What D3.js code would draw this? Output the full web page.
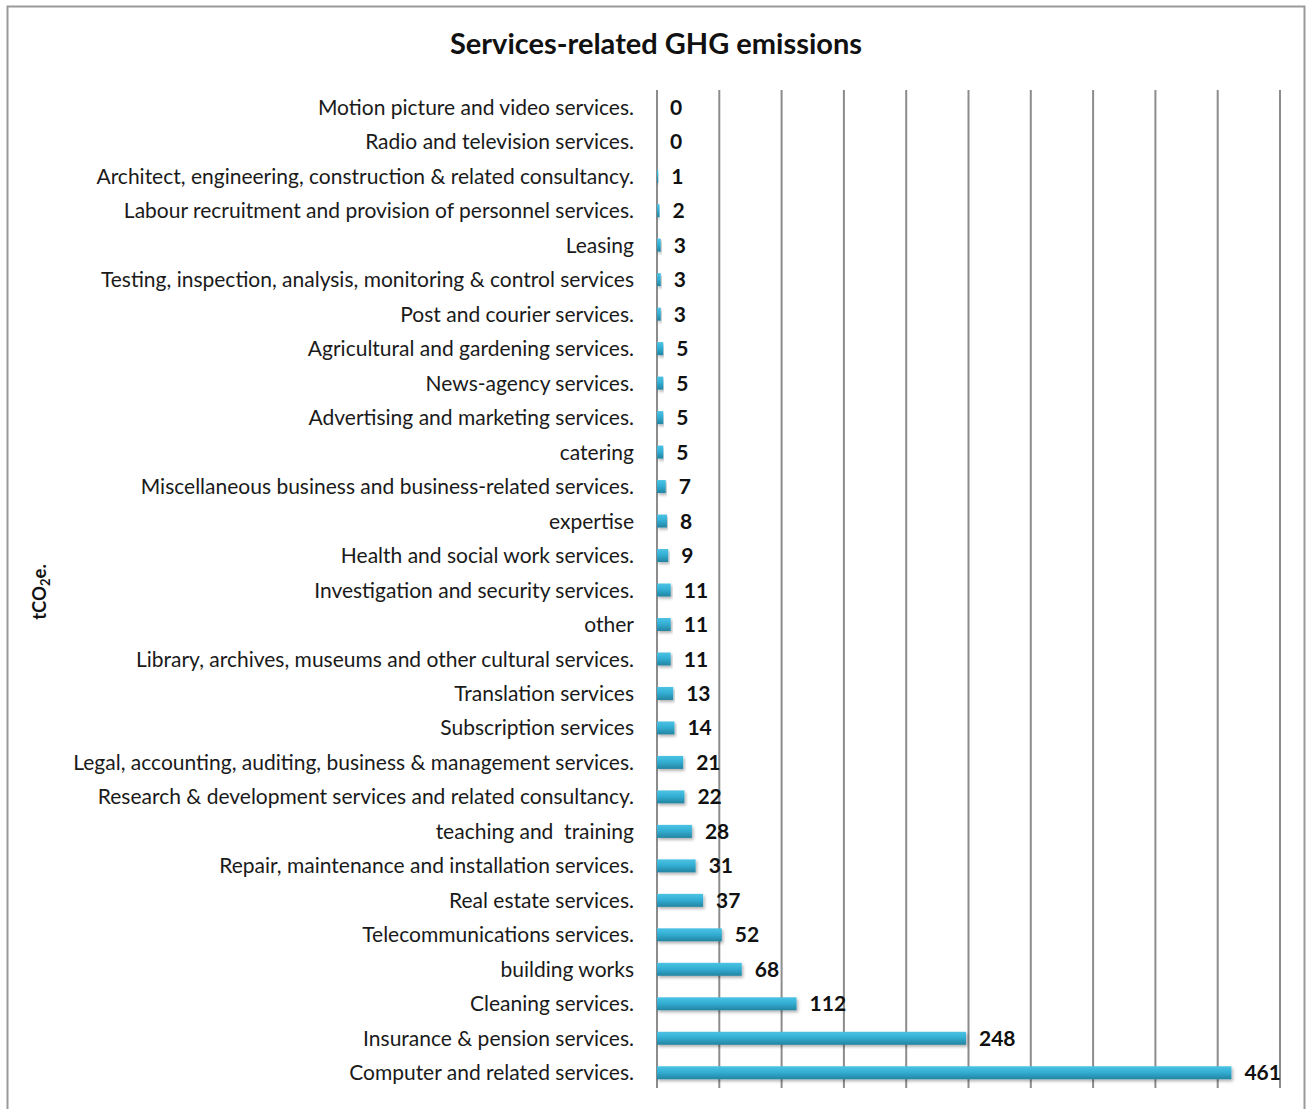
<!DOCTYPE html>
<html>
<head>
<meta charset="utf-8">
<script src="https://cdn.jsdelivr.net/npm/d3@7"></script>
<style>
  html, body { margin: 0; padding: 0; background: #fff; }
  svg text { font-family: Lato, "Open Sans", sans-serif; }
</style>
</head>
<body>
<svg id="chart" width="1309" height="1109"></svg>
<script>
// Service categories, listed top to bottom
const categories = [
  "Motion picture and video services.",
  "Radio and television services.",
  "Architect, engineering, construction & related consultancy.",
  "Labour recruitment and provision of personnel services.",
  "Leasing",
  "Testing, inspection, analysis, monitoring & control services",
  "Post and courier services.",
  "Agricultural and gardening services.",
  "News-agency services.",
  "Advertising and marketing services.",
  "catering",
  "Miscellaneous business and business-related services.",
  "expertise",
  "Health and social work services.",
  "Investigation and security services.",
  "other",
  "Library, archives, museums and other cultural services.",
  "Translation services",
  "Subscription services",
  "Legal, accounting, auditing, business & management services.",
  "Research & development services and related consultancy.",
  "teaching and  training",
  "Repair, maintenance and installation services.",
  "Real estate services.",
  "Telecommunications services.",
  "building works",
  "Cleaning services.",
  "Insurance & pension services.",
  "Computer and related services."
];

// Emissions in tCO2e, same order as categories
const emissions = [0, 0, 1, 2, 3, 3, 3, 5, 5, 5, 5, 7, 8, 9, 11, 11, 11, 13, 14, 21, 22, 28, 31, 37, 52, 68, 112, 248, 461];

// Value axis gridline values
const gridTicks = [0, 50, 100, 150, 200, 250, 300, 350, 400, 450, 500];

const chartTitle = "Services-related GHG emissions";

const svg = d3.select("#chart");
const plot = { left: 657, right: 1280, top: 90, bottom: 1090 };

// Outer frame (open at the bottom edge of the page)
svg.append("path")
  .attr("d", "M7.5,1109 L7.5,6.5 L1304.5,6.5 L1304.5,1109")
  .attr("fill", "none")
  .attr("stroke", "#9a9a9a")
  .attr("stroke-width", 2);

const x = d3.scaleLinear().domain([0, 500]).range([plot.left, plot.right]);
const y = d3.scaleBand().domain(categories).range([plot.top, plot.bottom]).padding(0);

// Bar gradient and soft shadow
const defs = svg.append("defs");
const grad = defs.append("linearGradient")
  .attr("id", "barGrad").attr("x1", 0).attr("y1", 0).attr("x2", 0).attr("y2", 1);
grad.append("stop").attr("offset", "0%").attr("stop-color", "#4cc3e4");
grad.append("stop").attr("offset", "45%").attr("stop-color", "#33afd4");
grad.append("stop").attr("offset", "100%").attr("stop-color", "#2484a1");

const shadow = defs.append("filter").attr("id", "barShadow")
  .attr("x", "-5%").attr("y", "-40%").attr("width", "115%").attr("height", "200%");
shadow.append("feDropShadow")
  .attr("dx", 1.5).attr("dy", 2).attr("stdDeviation", 1.5)
  .attr("flood-color", "#000").attr("flood-opacity", 0.3);

// Vertical gridlines
svg.append("g")
  .selectAll("line")
  .data(gridTicks)
  .join("line")
  .attr("x1", d => x(d)).attr("x2", d => x(d))
  .attr("y1", plot.top).attr("y2", plot.bottom - 2)
  .attr("stroke", "#8c8c8c")
  .attr("stroke-width", 2);

// Category labels
svg.append("g")
  .selectAll("text")
  .data(categories)
  .join("text")
  .attr("x", plot.left - 23)
  .attr("y", d => y(d) + y.bandwidth() / 2)
  .attr("dy", "0.36em")
  .attr("text-anchor", "end")
  .attr("font-size", 21)
  .attr("fill", "#1a1a1a")
  .attr("xml:space", "preserve")
  .style("white-space", "pre")
  .text(d => d);

const rows = categories.map((c, i) => ({ c, v: emissions[i] }));
const barH = 13;

// Bars
svg.append("g")
  .selectAll("rect")
  .data(rows)
  .join("rect")
  .attr("x", x(0))
  .attr("y", d => y(d.c) + y.bandwidth() / 2 - barH / 2)
  .attr("width", d => x(d.v) - x(0))
  .attr("height", barH)
  .attr("fill", "url(#barGrad)")
  .attr("filter", "url(#barShadow)");

// Value labels
svg.append("g")
  .selectAll("text")
  .data(rows)
  .join("text")
  .attr("x", d => x(d.v) + 13)
  .attr("y", d => y(d.c) + y.bandwidth() / 2)
  .attr("dy", "0.36em")
  .attr("font-size", 21)
  .attr("font-weight", "bold")
  .attr("fill", "#111")
  .text(d => d.v);

// Title
svg.append("text")
  .attr("x", 656)
  .attr("y", 54)
  .attr("text-anchor", "middle")
  .attr("font-size", 29)
  .attr("font-weight", "bold")
  .attr("fill", "#111")
  .text(chartTitle);

// Value axis title
const yt = svg.append("text")
  .attr("transform", "translate(46,592) rotate(-90)")
  .attr("text-anchor", "middle")
  .attr("font-size", 18.5)
  .attr("font-weight", "bold")
  .attr("fill", "#111");
yt.append("tspan").text("tCO");
yt.append("tspan").attr("font-size", 13).attr("dy", 4).text("2");
yt.append("tspan").attr("dy", -4).text("e.");
</script>
</body>
</html>
